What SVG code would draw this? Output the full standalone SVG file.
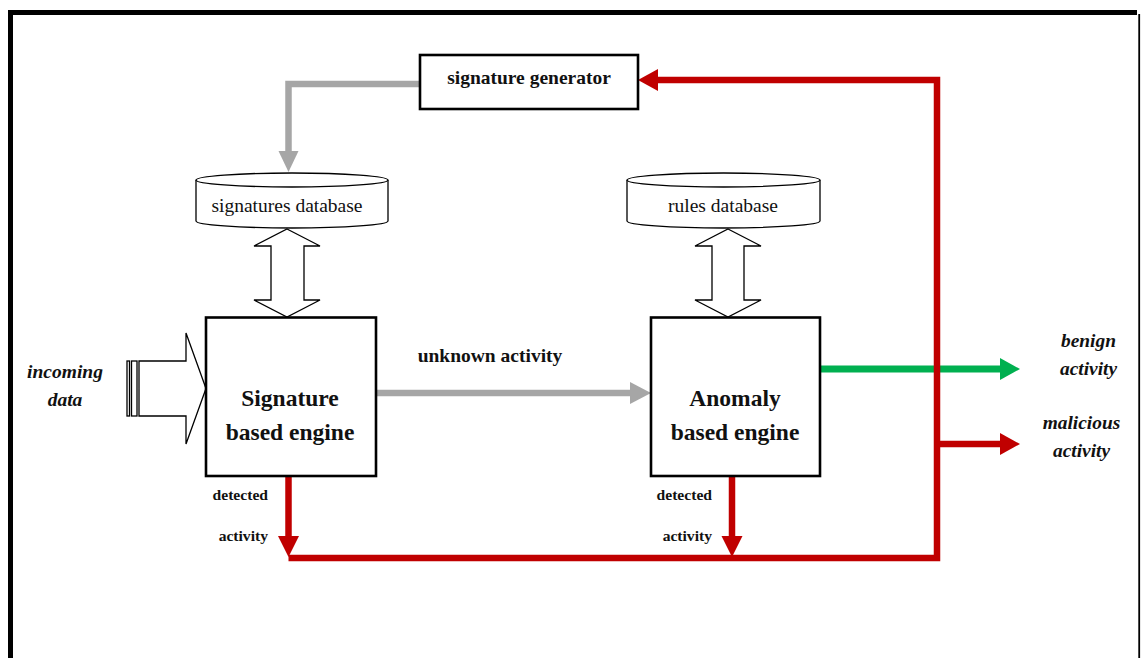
<svg xmlns="http://www.w3.org/2000/svg" width="1141" height="658" viewBox="0 0 1141 658">
  <style>
    .box { fill: #fff; stroke: #000; stroke-width: 2.6; }
    .thin { fill: #fff; stroke: #000; stroke-width: 1.3; stroke-linejoin: miter; }
    .lbl { font-family: "Liberation Serif", "Times New Roman", serif; fill: #111; text-anchor: middle; }
    .end { text-anchor: end; }
    .b { font-weight: bold; }
    .bi { font-weight: bold; font-style: italic; }
    .gray { stroke: #a6a6a6; stroke-width: 6.5; fill: none; }
    .red { stroke: #c00000; stroke-width: 6.5; fill: none; }
    .green { stroke: #00b050; stroke-width: 7; fill: none; }
  </style>

  <rect x="0" y="0" width="1141" height="658" fill="#fff"/>

  <!-- frame -->
  <g id="frame">
    <line x1="10.5" y1="10" x2="10.5" y2="658" stroke="#000" stroke-width="5"/>
    <line x1="8" y1="12.5" x2="1137" y2="12.5" stroke="#000" stroke-width="5"/>
    <line x1="1139.2" y1="14" x2="1139.2" y2="658" stroke="#000" stroke-width="1.8"/>
  </g>

  <!-- connectors -->
  <g id="connectors">
    <!-- generator feeds signatures database -->
    <polyline class="gray" points="420,84 288.5,84 288.5,153"/>
    <polygon points="278.5,151 298.5,151 288.5,172" fill="#a6a6a6"/>

    <!-- unknown activity -->
    <line class="gray" x1="376" y1="393" x2="632" y2="393"/>
    <polygon points="630,382 651,393 630,404" fill="#a6a6a6"/>

    <!-- benign activity -->
    <line class="green" x1="820" y1="369" x2="1002" y2="369"/>
    <polygon points="1000,358 1020,369 1000,380" fill="#00b050"/>

    <!-- detected activity feedback loop -->
    <line class="red" x1="288.5" y1="476" x2="288.5" y2="538"/>
    <polygon points="278,536 299,536 288.5,557" fill="#c00000"/>
    <line class="red" x1="732" y1="476" x2="732" y2="538"/>
    <polygon points="721.5,536 742.5,536 732,557" fill="#c00000"/>
    <polyline class="red" points="288.5,558 937,558 937,80 656,80"/>
    <polygon points="658,69 638,80 658,91" fill="#c00000"/>

    <!-- malicious activity -->
    <line class="red" x1="937" y1="444" x2="1002" y2="444"/>
    <polygon points="1000,433 1020,444 1000,455" fill="#c00000"/>

    <!-- database access arrows -->
    <polygon class="thin" points="287,229 320,246 304,246 304,300 320,300 287,317 254,300 271,300 271,246 254,246"/>
    <polygon class="thin" points="728,229 761,246 744,246 744,300 761,300 728,317 695,300 712,300 712,246 695,246"/>

    <!-- incoming data -->
    <rect class="thin" x="127" y="361" width="2.5" height="55"/>
    <rect class="thin" x="131.5" y="361" width="5.5" height="55"/>
    <polygon class="thin" points="139,361 186,361 186,333 206,388.5 186,444 186,416 139,416"/>
  </g>

  <g id="signature-generator">
    <rect class="box" x="420" y="55" width="218" height="54"/>
    <text class="lbl b" x="529" y="84" font-size="19.5">signature generator</text>
  </g>

  <g id="signatures-database">
    <path class="thin" d="M196,180 A96,7 0 0 1 388,180 L388,221 A96,7 0 0 1 196,221 Z"/>
    <path class="thin" fill="none" d="M196,180 A96,7 0 0 0 388,180"/>
    <text class="lbl" x="287" y="212" font-size="19.5">signatures database</text>
  </g>

  <g id="rules-database">
    <path class="thin" d="M627,180 A96.5,7 0 0 1 820,180 L820,221 A96.5,7 0 0 1 627,221 Z"/>
    <path class="thin" fill="none" d="M627,180 A96.5,7 0 0 0 820,180"/>
    <text class="lbl" x="723" y="212" font-size="19.5">rules database</text>
  </g>

  <g id="signature-engine">
    <rect class="box" x="206" y="317.5" width="170" height="158.5"/>
    <text class="lbl b" x="290" y="406" font-size="23.5">Signature</text>
    <text class="lbl b" x="290" y="440" font-size="23.5">based engine</text>
  </g>

  <g id="anomaly-engine">
    <rect class="box" x="651" y="317.5" width="169" height="158.5"/>
    <text class="lbl b" x="735" y="406" font-size="23.5">Anomaly</text>
    <text class="lbl b" x="735" y="440" font-size="23.5">based engine</text>
  </g>

  <g id="labels">
    <text class="lbl bi" x="65" y="378" font-size="19.5">incoming</text>
    <text class="lbl bi" x="65" y="406" font-size="19.5">data</text>
    <text class="lbl b" x="490" y="362" font-size="19.5">unknown activity</text>
    <text class="lbl b end" x="268" y="500" font-size="15.6">detected</text>
    <text class="lbl b end" x="268" y="541" font-size="15.6">activity</text>
    <text class="lbl b end" x="712" y="500" font-size="15.6">detected</text>
    <text class="lbl b end" x="712" y="541" font-size="15.6">activity</text>
    <text class="lbl bi" x="1088.5" y="347" font-size="19.4">benign</text>
    <text class="lbl bi" x="1088.5" y="375" font-size="19.4">activity</text>
    <text class="lbl bi" x="1081.5" y="429" font-size="19.4">malicious</text>
    <text class="lbl bi" x="1081.5" y="457" font-size="19.4">activity</text>
  </g>
</svg>
